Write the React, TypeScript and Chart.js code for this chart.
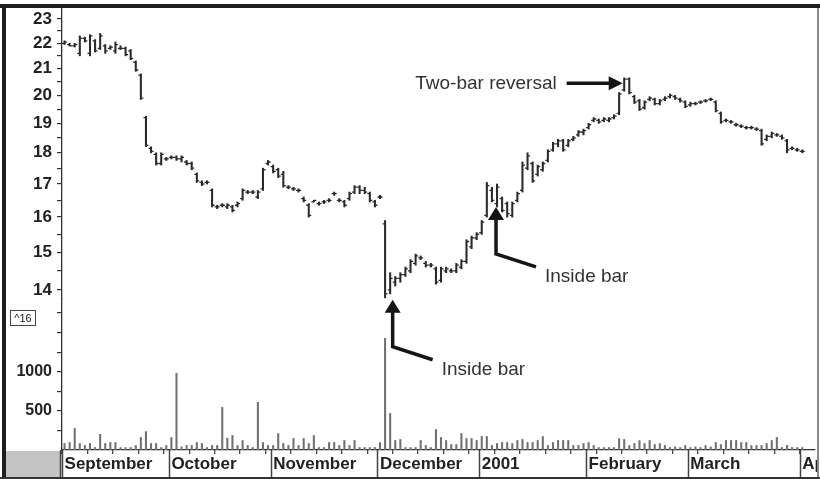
import React, { useEffect, useRef } from 'react';
import { Chart, registerables } from 'chart.js';

Chart.register(...registerables);

// ---- data ----
const highs = [
  22.1, 22.0, 22.0, 22.3, 22.25, 22.35, 22.15, 22.4, 21.95, 21.9,
  22.05, 21.9, 21.85, 21.75, 21.3, 20.8, 19.25, 18.2, 18.0, 18.0,
  17.85, 17.9, 17.9, 17.9, 17.75, 17.7, 17.35, 17.1, 17.1, 16.85,
  16.35, 16.4, 16.4, 16.35, 16.45, 16.85, 16.8, 16.8, 16.8, 17.5,
  17.75, 17.6, 17.5, 17.4, 16.95, 16.9, 16.85, 16.6, 16.4, 16.5,
  16.45, 16.5, 16.55, 16.75, 16.55, 16.5, 16.75, 16.95, 16.95, 16.9,
  16.75, 16.5, 16.65, 15.9, 14.45, 14.35, 14.45, 14.6, 14.8, 14.95,
  14.9, 14.75, 14.7, 14.6, 14.6, 14.6, 14.55, 14.7, 14.8, 15.35,
  15.45, 15.55, 15.9, 17.05, 16.9, 17.0, 16.6, 16.45, 16.45, 16.75,
  17.7, 18.0, 17.7, 17.6, 17.7, 18.1, 18.35, 18.45, 18.45, 18.45,
  18.55, 18.75, 18.8, 19.0, 19.2, 19.15, 19.2, 19.2, 19.3, 20.1,
  20.65, 20.65, 20.0, 19.85, 19.8, 19.95, 19.9, 19.85, 19.95, 20.05,
  20.0, 19.9, 19.8, 19.75, 19.75, 19.8, 19.85, 19.9, 19.8, 19.4,
  19.15, 19.1, 19.0, 18.95, 18.9, 18.9, 18.85, 18.8, 18.6, 18.7,
  18.65, 18.6, 18.45, 18.2, 18.15, 18.1,
];
const lows = [
  21.95, 21.9, 21.85, 21.5, 22.05, 21.5, 21.65, 21.75, 21.6, 21.75,
  21.6, 21.75, 21.5, 21.35, 20.9, 19.85, 18.2, 18.0, 17.6, 17.6,
  17.75, 17.8, 17.75, 17.7, 17.6, 17.45, 17.05, 16.95, 17.0, 16.3,
  16.25, 16.3, 16.25, 16.15, 16.3, 16.5, 16.7, 16.7, 16.55, 16.8,
  17.6, 17.35, 17.2, 16.9, 16.85, 16.8, 16.75, 16.45, 16.0, 16.45,
  16.35, 16.4, 16.45, 16.65, 16.45, 16.3, 16.5, 16.7, 16.7, 16.7,
  16.45, 16.3, 16.55, 13.8, 13.9, 14.1, 14.2, 14.35, 14.45, 14.65,
  14.8, 14.6, 14.6, 14.15, 14.2, 14.45, 14.45, 14.45, 14.55, 14.7,
  15.1, 15.35, 15.5, 16.0, 16.45, 16.3, 16.15, 16.0, 16.0, 16.45,
  16.75, 17.45, 17.05, 17.25, 17.4, 17.7, 18.05, 18.2, 18.05, 18.2,
  18.4, 18.55, 18.6, 18.8, 19.05, 19.0, 19.05, 19.05, 19.15, 19.3,
  20.15, 20.05, 19.7, 19.45, 19.5, 19.8, 19.65, 19.65, 19.8, 19.9,
  19.85, 19.75, 19.55, 19.6, 19.65, 19.7, 19.75, 19.8, 19.4, 19.0,
  19.05, 19.0, 18.9, 18.85, 18.8, 18.8, 18.75, 18.25, 18.4, 18.5,
  18.55, 18.45, 18.0, 18.1, 18.05, 18.0,
];
const opens = [
  22.0, 21.95, 21.9, 21.6, 22.2, 21.6, 22.1, 21.8, 21.9, 21.8,
  21.7, 21.8, 21.8, 21.7, 21.25, 20.75, 19.2, 18.15, 17.95, 17.65,
  17.8, 17.85, 17.85, 17.8, 17.7, 17.65, 17.3, 17.05, 17.05, 16.8,
  16.3, 16.35, 16.3, 16.3, 16.35, 16.55, 16.75, 16.75, 16.6, 16.85,
  17.65, 17.55, 17.45, 17.3, 16.9, 16.85, 16.8, 16.55, 16.35, 16.45,
  16.4, 16.45, 16.5, 16.7, 16.5, 16.45, 16.55, 16.75, 16.9, 16.8,
  16.7, 16.45, 16.6, 15.8, 14.0, 14.2, 14.3, 14.4, 14.5, 14.7,
  14.85, 14.7, 14.65, 14.55, 14.25, 14.5, 14.5, 14.5, 14.6, 14.75,
  15.15, 15.4, 15.55, 16.05, 16.8, 16.4, 16.55, 16.4, 16.05, 16.5,
  16.8, 17.5, 17.65, 17.3, 17.45, 17.75, 18.1, 18.3, 18.4, 18.25,
  18.45, 18.6, 18.7, 18.85, 19.1, 19.1, 19.1, 19.1, 19.2, 19.35,
  20.2, 20.6, 19.95, 19.8, 19.55, 19.85, 19.85, 19.7, 19.85, 19.95,
  19.95, 19.85, 19.75, 19.65, 19.7, 19.75, 19.8, 19.85, 19.75, 19.35,
  19.1, 19.05, 18.95, 18.9, 18.85, 18.85, 18.8, 18.75, 18.45, 18.55,
  18.6, 18.55, 18.4, 18.15, 18.1, 18.05,
];
const closes = [
  22.05, 21.9, 21.95, 22.2, 22.1, 22.3, 21.7, 22.3, 21.7, 21.85,
  21.95, 21.8, 21.55, 21.4, 20.95, 19.9, 18.25, 18.05, 17.65, 17.95,
  17.8, 17.85, 17.8, 17.85, 17.65, 17.5, 17.1, 17.0, 17.05, 16.35,
  16.3, 16.35, 16.35, 16.2, 16.4, 16.8, 16.75, 16.75, 16.75, 17.45,
  17.7, 17.4, 17.25, 16.95, 16.9, 16.85, 16.8, 16.5, 16.05, 16.5,
  16.4, 16.45, 16.5, 16.7, 16.5, 16.35, 16.7, 16.9, 16.8, 16.75,
  16.5, 16.35, 16.6, 13.9, 14.3, 14.3, 14.4, 14.55, 14.75, 14.9,
  14.85, 14.65, 14.65, 14.2, 14.55, 14.55, 14.5, 14.65, 14.75, 15.3,
  15.4, 15.5, 15.85, 16.95, 16.5, 16.9, 16.2, 16.1, 16.4, 16.7,
  17.6, 17.9, 17.1, 17.55, 17.65, 18.05, 18.3, 18.4, 18.1, 18.4,
  18.5, 18.7, 18.75, 18.95, 19.15, 19.05, 19.15, 19.15, 19.25, 20.05,
  20.6, 20.1, 19.75, 19.5, 19.75, 19.9, 19.7, 19.8, 19.9, 20.0,
  19.9, 19.8, 19.6, 19.7, 19.7, 19.75, 19.8, 19.85, 19.45, 19.05,
  19.1, 19.05, 18.95, 18.9, 18.85, 18.85, 18.8, 18.3, 18.55, 18.65,
  18.6, 18.5, 18.1, 18.15, 18.1, 18.05,
];
const volumes = [
  83, 96, 275, 83, 58, 83, 32, 200, 83, 96,
  96, 32, 32, 32, 58, 160, 235, 83, 83, 32,
  58, 160, 980, 40, 58, 58, 96, 83, 32, 58,
  58, 545, 150, 185, 58, 120, 58, 32, 610, 96,
  58, 58, 210, 83, 58, 147, 58, 147, 83, 185,
  32, 32, 96, 96, 58, 122, 58, 122, 32, 32,
  32, 32, 95, 1427, 467, 122, 135, 32, 32, 32,
  122, 58, 32, 262, 160, 122, 70, 70, 211, 147,
  147, 122, 173, 173, 58, 83, 96, 96, 83, 122,
  135, 96, 96, 122, 173, 58, 96, 122, 122, 122,
  58, 58, 83, 96, 58, 32, 32, 32, 32, 145,
  135, 58, 83, 120, 83, 122, 70, 83, 58, 32,
  40, 32, 58, 32, 40, 32, 58, 40, 96, 70,
  122, 122, 122, 96, 96, 58, 58, 58, 83, 122,
  160, 32, 58, 32, 32, 32,
];
const monthNames = ['September', 'October', 'November', 'December', '2001', 'February', 'March', 'April'];
const monthStarts = [0, 21, 41, 62, 82, 103, 123, 145];
const priceTicks = [14, 14.5, 15, 15.5, 16, 16.5, 17, 17.5, 18, 18.5, 19, 19.5, 20, 20.5, 21, 21.5, 22, 22.5, 23];
const volumeTicks = [250, 500, 750, 1000, 1250, 1500, 1750];
const volumeLabels = [500, 1000];

const SLOTS = 148;
const FONT = '"Liberation Sans", Arial, sans-serif';

const decor = {
  id: 'decor',
  afterDatasetsDraw(chart: any) {
    const ctx = chart.ctx;
    const xs = chart.scales.x;
    const ys = chart.scales.y;
    ctx.save();
    ctx.strokeStyle = '#2a2a2a';
    ctx.lineWidth = 1.3;
    for (let i = 0; i < opens.length; i++) {
      const x = xs.getPixelForValue(i);
      const yo = ys.getPixelForValue(opens[i]);
      const yc = ys.getPixelForValue(closes[i]);
      ctx.beginPath();
      ctx.moveTo(x - 2.5, yo);
      ctx.lineTo(x, yo);
      ctx.moveTo(x, yc);
      ctx.lineTo(x + 2.5, yc);
      ctx.stroke();
    }
    ctx.restore();
  },
  afterDraw(chart: any) {
    const ctx = chart.ctx;
    const xs = chart.scales.x;
    const ys = chart.scales.y;
    const W = chart.width;
    const H = chart.height;
    ctx.save();
    // bottom strip
    ctx.fillStyle = '#c4c4c4';
    ctx.fillRect(6, xs.top + 1, 55, xs.bottom - xs.top - 1);
    ctx.strokeStyle = '#444';
    ctx.lineWidth = 1.5;
    const slot = xs.width / SLOTS;
    ctx.beginPath();
    for (const s of monthStarts) {
      const x = Math.round(xs.getPixelForValue(s) - slot / 2) + 0.5;
      ctx.moveTo(x, xs.top);
      ctx.lineTo(x, xs.bottom);
    }
    ctx.moveTo(60.5, xs.top);
    ctx.lineTo(60.5, xs.bottom);
    ctx.stroke();
    // frame
    ctx.fillStyle = '#ffffff';
    ctx.fillRect(819, 0, W - 819, H);
    ctx.fillStyle = '#8a8a8a';
    ctx.fillRect(817, 5, 2, H - 5);
    ctx.fillStyle = '#1e1e1e';
    ctx.fillRect(0, 4, W, 4);
    ctx.fillRect(2, 4, 4, H - 4);
    ctx.fillStyle = '#333';
    ctx.fillRect(0, 477, W, 2);

    // ^16 box
    ctx.strokeStyle = '#444';
    ctx.lineWidth = 1;
    ctx.strokeRect(10.5, 310.5, 25, 15);
    ctx.fillStyle = '#222';
    ctx.font = `11px ${FONT}`;
    ctx.textAlign = 'center';
    ctx.textBaseline = 'middle';
    ctx.fillText('^16', 23, 318.5);

    // annotations
    ctx.fillStyle = '#151515';
    ctx.strokeStyle = '#151515';
    ctx.lineWidth = 3.5;
    ctx.lineCap = 'butt';
    ctx.lineJoin = 'miter';
    ctx.font = `19px ${FONT}`;

    // Two-bar reversal
    {
      const tx = xs.getPixelForValue(110) - 1.5;
      const ty = ys.getPixelForValue(20.45);
      ctx.beginPath();
      ctx.moveTo(tx - 56, ty);
      ctx.lineTo(tx - 12, ty);
      ctx.stroke();
      ctx.beginPath();
      ctx.moveTo(tx, ty);
      ctx.lineTo(tx - 14, ty - 7);
      ctx.lineTo(tx - 14, ty + 7);
      ctx.closePath();
      ctx.fill();
      ctx.fillStyle = '#333';
      ctx.textAlign = 'right';
      ctx.textBaseline = 'middle';
      ctx.fillText('Two-bar reversal', tx - 66, ty + 1);
      ctx.fillStyle = '#151515';
    }
    const insideArrow = (tx: number, ty: number) => {
      ctx.beginPath();
      ctx.moveTo(tx, ty + 11);
      ctx.lineTo(tx, ty + 47);
      ctx.lineTo(tx + 40, ty + 60);
      ctx.stroke();
      ctx.beginPath();
      ctx.moveTo(tx, ty);
      ctx.lineTo(tx - 8, ty + 13);
      ctx.lineTo(tx + 8, ty + 13);
      ctx.closePath();
      ctx.fill();
      ctx.fillStyle = '#333';
      ctx.textAlign = 'left';
      ctx.textBaseline = 'middle';
      ctx.fillText('Inside bar', tx + 49, ty + 70);
      ctx.fillStyle = '#151515';
    };
    insideArrow(xs.getPixelForValue(85) - 1, ys.getPixelForValue(16.3));
    insideArrow(xs.getPixelForValue(64) + 2.5, ys.getPixelForValue(13.75));
    ctx.restore();
  },
};

const fitY = (s: any) => {
  s.width = 56;
  s.paddingTop = 0;
  s.paddingBottom = 0;
};

export default function App() {
  const ref = useRef<HTMLCanvasElement | null>(null);
  useEffect(() => {
    if (!ref.current) return;
    const labels = Array.from({ length: SLOTS }, (_, i) => String(i));
    const chart = new Chart(ref.current, {
      type: 'bar',
      data: {
        labels,
        datasets: [
          {
            label: 'Price range',
            data: highs.map((h, i) => [lows[i], h]) as any,
            yAxisID: 'y',
            backgroundColor: '#2a2a2a',
            barThickness: 1.4,
            grouped: false,
          },
          {
            label: 'Volume',
            data: volumes,
            yAxisID: 'v',
            backgroundColor: '#707070',
            barThickness: 1.4,
            grouped: false,
          },
        ],
      },
      options: {
        responsive: false,
        animation: false,
        devicePixelRatio: 1,
        layout: { padding: { left: 6, top: 8, right: 5, bottom: 2 } },
        plugins: { legend: { display: false }, tooltip: { enabled: false } },
        scales: {
          x: {
            type: 'category',
            position: 'bottom',
            offset: true,
            grid: {
              drawOnChartArea: false,
              drawTicks: true,
              tickLength: 4,
              offset: true,
              color: (c: any) => (c.index % 5 === 0 ? '#444' : 'rgba(0,0,0,0)'),
              lineWidth: 1.3,
            },
            border: { display: true, color: '#333', width: 1.3 },
            ticks: {
              autoSkip: false,
              maxRotation: 0,
              minRotation: 0,
              align: 'start',
              padding: 0,
              color: '#222',
              font: { family: FONT, size: 17, weight: 'bold' },
              callback: (_v: any, idx: number) => {
                const m = monthStarts.indexOf(idx);
                return m >= 0 ? monthNames[m] : '';
              },
            },
            afterFit: (s: any) => {
              s.height = 27;
              s.paddingLeft = 0;
              s.paddingRight = 0;
            },
          },
          v: {
            type: 'linear',
            position: 'left',
            stack: 'panes',
            stackWeight: 1,
            min: 0,
            max: 1930,
            afterBuildTicks: (s: any) => { s.ticks = volumeTicks.map((v) => ({ value: v })); },
            grid: { drawOnChartArea: false, tickLength: 5, color: '#333', lineWidth: 1.2 },
            border: { display: true, color: '#333', width: 1.3 },
            ticks: {
              autoSkip: false,
              padding: 5,
              color: '#222',
              font: { family: FONT, size: 16, weight: 'bold' },
              callback: (v: any) => (volumeLabels.includes(Number(v)) ? String(v) : ''),
            },
            afterFit: fitY,
          },
          y: {
            type: 'logarithmic',
            position: 'left',
            stack: 'panes',
            stackWeight: 1.927,
            min: 13.77,
            max: 23.47,
            afterBuildTicks: (s: any) => { s.ticks = priceTicks.map((v) => ({ value: v })); },
            grid: { drawOnChartArea: false, tickLength: 5, color: '#333', lineWidth: 1.2 },
            border: { display: true, color: '#333', width: 1.3 },
            ticks: {
              autoSkip: false,
              padding: 5,
              color: '#222',
              font: { family: FONT, size: 17, weight: 'bold' },
              callback: (v: any) => (Number.isInteger(Number(v)) ? String(v) : ''),
            },
            afterFit: fitY,
          },
        } as any,
      },
      plugins: [decor],
    });
    return () => chart.destroy();
  }, []);
  return (
    <div style={{ position: 'absolute', left: 0, top: 0, width: 820, height: 479, background: '#fff' }}>
      <canvas ref={ref} width={820} height={479} style={{ display: 'block' }} />
    </div>
  );
}
